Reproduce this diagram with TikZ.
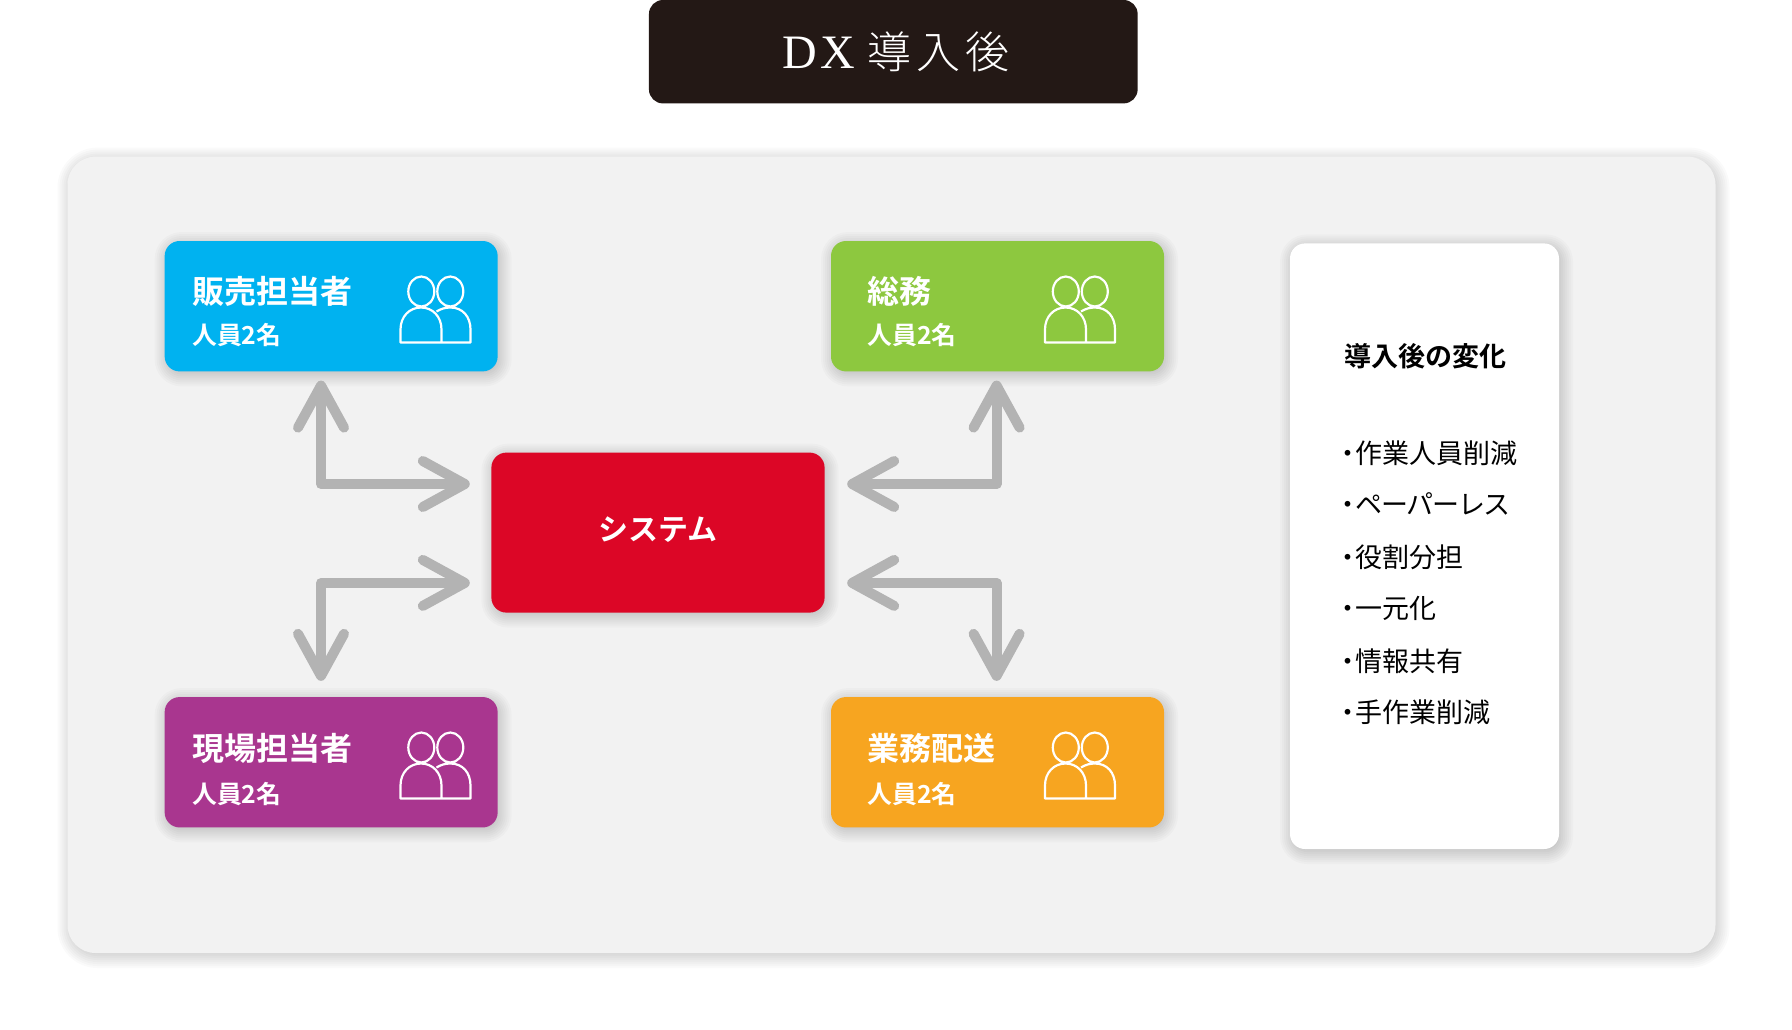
\documentclass[tikz,border=0pt]{standalone}
\usepackage{fontspec}
\setmainfont{Noto Sans CJK JP}[BoldFont={Noto Sans CJK JP Bold}]
\newfontfamily\titlelatin{Liberation Serif}[LetterSpace=8]
\newfontfamily\titlecjk{Noto Sans CJK JP Light}[LetterSpace=12]
\usetikzlibrary{arrows.meta}
\definecolor{hdr}{HTML}{231815}
\definecolor{panelc}{HTML}{F2F2F2}
\definecolor{cblue}{HTML}{00B2F0}
\definecolor{cgreen}{HTML}{8DC83F}
\definecolor{cpurple}{HTML}{A9368F}
\definecolor{corange}{HTML}{F7A520}
\definecolor{cred}{HTML}{DC0626}
\definecolor{carrow}{HTML}{B3B3B3}
% soft shadow: stacked translucent rounded rectangles (cx,cy,w,h,r)
\newcommand{\softshadow}[5]{%
  \foreach \e in {12,10,8,6,4,2,0,-2,-4}{%
    \pgfmathsetmacro{\xa}{#1-#3/2-\e+2}%
    \pgfmathsetmacro{\xb}{#1+#3/2+\e+2}%
    \pgfmathsetmacro{\ya}{#2-#4/2-\e+3}%
    \pgfmathsetmacro{\yb}{#2+#4/2+\e+3}%
    \pgfmathsetmacro{\rr}{max(#5+\e,2)}%
    \fill[black,opacity=0.018,rounded corners=\rr pt] (\xa,\ya) rectangle (\xb,\yb);
  }%
}
\tikzset{
  plainbox/.style={rectangle,rounded corners=15pt,inner sep=0pt},
  rolebox/.style={plainbox,minimum width=333pt,minimum height=130.4pt},
  connector/.style={draw=carrow,line width=10pt,line join=round,
    {Straight Barb[length=42pt,width=46pt,round]}-{Straight Barb[length=42pt,width=46pt,round]}},
  rolename/.style={anchor=west,text=white,font=\fontsize{32}{32}\selectfont\bfseries,inner sep=0pt},
  rolecount/.style={anchor=west,text=white,font=\fontsize{24.8}{24.8}\selectfont\bfseries,inner sep=0pt},
  itemtext/.style={anchor=west,text=black,font=\fontsize{27}{27}\selectfont,inner sep=0pt},
  pics/people/.style={code={
    \draw[white,line width=2.2pt,line join=round]
      (20.8,-51) ellipse[x radius=13,y radius=15]
      (49.8,-51) ellipse[x radius=13,y radius=15]
      (0,0) -- (0,-13) .. controls (0,-26) and (9,-35) .. (20.5,-35) .. controls (32,-35) and (41,-26) .. (41,-13) -- (41,0) -- cycle
      (41,0) -- (70,0) -- (70,-13) .. controls (70,-26) and (62,-35) .. (50,-35) .. controls (45,-35) and (41,-34) .. (36,-31);
  }}
}
\begin{document}
\begin{tikzpicture}[x=1pt,y=1pt]
\useasboundingbox (0,0) rectangle (1792,-1029);
\fill[white] (0,0) rectangle (1792,-1029);
\begin{scope}[y=-1pt]
% panel
\softshadow{891.5}{554.8}{1648}{796.4}{28}
\node[plainbox,rounded corners=28pt,fill=panelc,minimum width=1648pt,minimum height=796.4pt] (panel) at (891.5,554.8) {};
% header
\node[plainbox,rounded corners=14pt,fill=hdr,minimum width=488.7pt,minimum height=103.4pt] (header) at (893.3,51.7) {};
\node[text=white,inner sep=0pt] (title) at (896,51.4) {\fontsize{48}{48}\selectfont{\titlelatin DX}\hspace{12pt}{\titlecjk\fontsize{44}{44}\selectfont 導入後}};
% shadows
\softshadow{331.15}{306.2}{333}{130.4}{15}
\softshadow{997.5}{306.2}{333}{130.4}{15}
\softshadow{331.15}{762.25}{333}{130.4}{15}
\softshadow{997.5}{762.25}{333}{130.4}{15}
\softshadow{658}{532.6}{333.2}{160}{15}
\softshadow{1424.5}{546.2}{269}{605.6}{15}
% boxes
\node[rolebox,fill=cblue] (blue) at (331.15,306.2) {};
\node[rolebox,fill=cgreen] (green) at (997.5,306.2) {};
\node[rolebox,fill=cpurple] (purple) at (331.15,762.25) {};
\node[rolebox,fill=corange] (orange) at (997.5,762.25) {};
\node[plainbox,fill=cred,minimum width=333.2pt,minimum height=160pt] (sys) at (658,532.6) {};
\node[plainbox,fill=white,minimum width=269pt,minimum height=605.6pt] (change) at (1424.5,546.2) {};
% box texts
\node[rolename] (t1) at (192,291.3) {販売担当者};
\node[rolecount] (c1) at (192,335) {人員2名};
\node[rolename] (t2) at (867.5,291.3) {総務};
\node[rolecount] (c2) at (867.5,335) {人員2名};
\node[rolename] (t3) at (192,748.5) {現場担当者};
\node[rolecount] (c3) at (192,794.5) {人員2名};
\node[rolename] (t4) at (867.5,748.5) {業務配送};
\node[rolecount] (c4) at (867.5,794.5) {人員2名};
\node[text=white,inner sep=0pt,font=\fontsize{30}{30}\selectfont\bfseries] (t5) at (658.3,529.5) {システム};
% icons
\pic at (400.5,342.5) {people};
\pic at (1045,342.5) {people};
\pic at (400.5,798.5) {people};
\pic at (1045,798.5) {people};
% change list
\node[anchor=west,inner sep=0pt,text=black,font=\fontsize{27}{27}\selectfont\bfseries] (h) at (1344,356.6) {導入後の変化};
\node[itemtext] (i1) at (1334,453) {・\hspace{-5.4pt}作業人員削減};
\node[itemtext] (i2) at (1334,504) {・\hspace{-5.4pt}\addfontfeature{LetterSpace=-5}ペーパーレス};
\node[itemtext] (i3) at (1334,557) {・\hspace{-5.4pt}役割分担};
\node[itemtext] (i4) at (1334,608.5) {・\hspace{-5.4pt}一元化};
\node[itemtext] (i5) at (1334,661) {・\hspace{-5.4pt}情報共有};
\node[itemtext] (i6) at (1334,712) {・\hspace{-5.4pt}手作業削減};
% connectors
\draw[connector] ([xshift=-10.15pt,yshift=-9pt]blue.south) |- ([xshift=-21.4pt,yshift=48.6pt]sys.west);
\draw[connector] ([xshift=-10.15pt,yshift=16pt]purple.north) |- ([xshift=-21.4pt,yshift=-50.3pt]sys.west);
\draw[connector] ([xshift=-0.9pt,yshift=-9pt]green.south) |- ([xshift=22.4pt,yshift=48.6pt]sys.east);
\draw[connector] ([xshift=-0.9pt,yshift=16pt]orange.north) |- ([xshift=22.4pt,yshift=-50.3pt]sys.east);
\end{scope}
\end{tikzpicture}
\end{document}
